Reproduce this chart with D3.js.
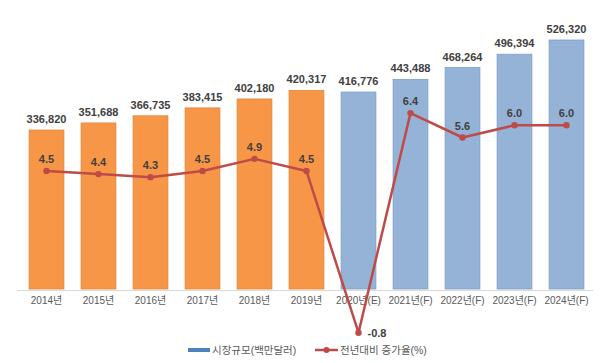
<!DOCTYPE html>
<html><head><meta charset="utf-8">
<script src="https://cdn.jsdelivr.net/npm/d3@7"></script>
<style>
html,body{margin:0;padding:0;background:#fff;}
text{font-family:"Liberation Sans","Noto Sans CJK KR",sans-serif;}
</style></head>
<body><svg id="c" width="600" height="363"></svg>
<script>
const categories = ["2014년","2015년","2016년","2017년","2018년","2019년","2020년(E)","2021년(F)","2022년(F)","2023년(F)","2024년(F)"];
const marketSize = [336820,351688,366735,383415,402180,420317,416776,443488,468264,496394,526320];
const growthRate = [4.5,4.4,4.3,4.5,4.9,4.5,-0.8,6.4,5.6,6.0,6.0];
const isActual = [true,true,true,true,true,true,false,false,false,false,false];
const legendLabels = ["시장규모(백만달러)","전년대비 증가율(%)"];

const svg = d3.select("#c");
const x = d3.scaleBand().domain(categories).range([20.5,592.5]).paddingInner(0.33).paddingOuter(0.165);
const y = d3.scaleLinear().domain([0,600000]).range([290,5]);
const y2 = d3.scaleLinear().domain([-1,8]).range([338.8,64.3]);

// axis line
const xAxis = d3.axisBottom(x).tickSize(0).tickPadding(7);
const gx = svg.append("g").attr("transform","translate(0,290)").call(xAxis);
gx.select(".domain").attr("stroke","#d9d9d9").attr("d","M17,0.5H593");
gx.selectAll("text").attr("font-size","10px").attr("fill","#595959")
  .attr("font-family","'Liberation Sans','Noto Sans CJK KR',sans-serif");

// bars
svg.append("g").selectAll("rect").data(marketSize).join("rect")
  .attr("x",(d,i)=>x(categories[i]))
  .attr("y",d=>y(d))
  .attr("width",x.bandwidth())
  .attr("height",d=>289-y(d))
  .attr("fill",(d,i)=>isActual[i]?"#F79646":"#95B3D7")
  .attr("stroke",(d,i)=>isActual[i]?"#E0883C":"#7F9FC9")
  .attr("stroke-width",0.8);

// bar labels
svg.append("g").selectAll("text").data(marketSize).join("text")
  .attr("x",(d,i)=>x(categories[i])+x.bandwidth()/2)
  .attr("y",d=>y(d)-7)
  .attr("text-anchor","middle")
  .attr("font-size","11px").attr("font-weight","bold").attr("fill","#404040")
  .text(d=>d3.format(",")(d));

// line
const cx = i => x(categories[i])+x.bandwidth()/2;
const line = d3.line().x((d,i)=>cx(i)).y(d=>y2(d));
svg.append("path").datum(growthRate).attr("d",line)
  .attr("fill","none").attr("stroke","#BE4B48").attr("stroke-width",2.5).attr("stroke-linejoin","round");
svg.append("g").selectAll("circle").data(growthRate).join("circle")
  .attr("cx",(d,i)=>cx(i)).attr("cy",d=>y2(d)).attr("r",3.2).attr("fill","#BE4B48");

svg.append("g").selectAll("text").data(growthRate).join("text")
  .attr("x",(d,i)=> d<0 ? cx(i)+9 : cx(i))
  .attr("y",d=> d<0 ? y2(d)+1 : y2(d)-8)
  .attr("text-anchor",d=>d<0?"start":"middle")
  .attr("dominant-baseline",d=>d<0?"middle":"auto")
  .attr("font-size","11px").attr("font-weight","bold").attr("fill","#404040")
  .text(d=>d.toFixed(1));

// legend
const lg = svg.append("g");
lg.append("rect").attr("x",188).attr("y",348).attr("width",22).attr("height",4).attr("fill","#4F81BD");
lg.append("text").attr("x",212).attr("y",354).attr("font-size","10.5px").attr("fill","#595959")
  .attr("font-family","'Noto Sans CJK KR',sans-serif").text(legendLabels[0]);
lg.append("line").attr("x1",315).attr("x2",338).attr("y1",350).attr("y2",350).attr("stroke","#BE4B48").attr("stroke-width",2.5);
lg.append("circle").attr("cx",326.5).attr("cy",350).attr("r",3).attr("fill","#BE4B48");
lg.append("text").attr("x",340).attr("y",354).attr("font-size","10.5px").attr("fill","#595959")
  .attr("font-family","'Noto Sans CJK KR',sans-serif").text(legendLabels[1]);
</script></body></html>
